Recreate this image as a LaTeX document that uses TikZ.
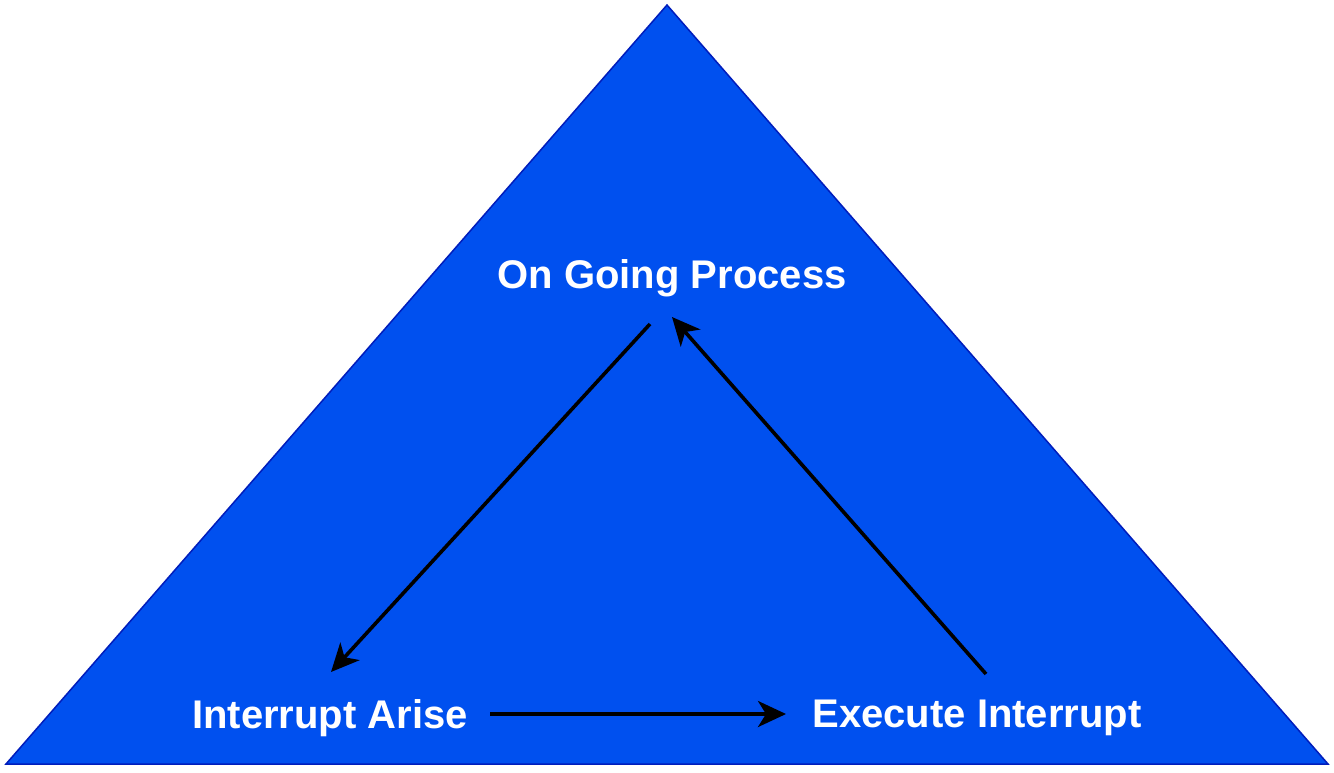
\documentclass[tikz,border=0pt]{standalone}
\usepackage{fontspec}
\setmainfont{Liberation Sans}
\usetikzlibrary{arrows.meta}
\definecolor{tri}{HTML}{0050EF}
\definecolor{triborder}{HTML}{001DBC}
\begin{document}
\begin{tikzpicture}[x=1pt,y=-1pt,
  lbl/.style={text=white,font=\fontsize{40}{46}\selectfont\bfseries,inner sep=0pt},
  conn/.style={line width=3.6pt,black,-{Stealth[length=28pt,width=26pt,inset=8pt]}}]
\useasboundingbox (0,0) rectangle (1334,772);
\path[fill=tri,draw=triborder,line width=1.5pt] (667,5) coordinate (top) -- (1328,764) coordinate (br) -- (6,764) coordinate (bl) -- cycle;
\node[lbl] (ogp) at (672,278) {On Going Process};
\node[lbl] (ia) at (330,718) {Interrupt Arise};
\node[lbl] (ei) at (977,718) {Execute Interrupt};
\coordinate (a1s) at (650,324);
\coordinate (a1e) at (331,672);
\coordinate (a2s) at (490,714);
\coordinate (a2e) at (786,714);
\coordinate (a3s) at (986,674);
\coordinate (a3e) at (672,317);
\draw[conn] (a1s) -- (a1e);
\draw[conn] (a2s) -- (a2e);
\draw[conn] (a3s) -- (a3e);
\end{tikzpicture}
\end{document}
